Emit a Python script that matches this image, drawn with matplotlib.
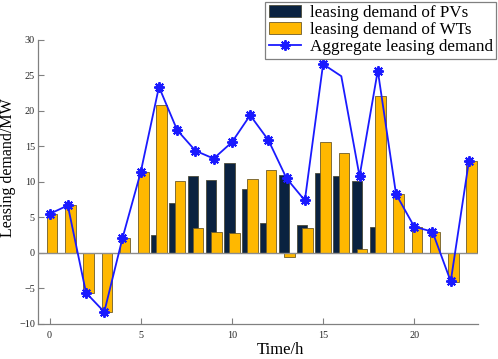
import numpy as np
import matplotlib
matplotlib.use("Agg")
import matplotlib.pyplot as plt

plt.rcParams['font.family'] = ['Liberation Serif', 'DejaVu Serif']

# hours
hours = np.arange(24)

# leasing demand (MW)
pv_demand = [0, 0, 0, 0, 0, 0, 2.5, 7.1, 10.9, 10.3, 12.7, 9.0,
             4.2, 11.0, 4.0, 11.3, 10.8, 10.2, 3.6, 0, 0, 0, 0, 0]
wt_demand = [5.5, 6.7, -5.6, -8.3, 2.1, 11.4, 20.9, 10.1, 3.5, 3.0, 2.8, 10.4,
             11.7, -0.6, 3.5, 15.7, 14.1, 0.5, 22.1, 8.3, 3.7, 3.0, -4.1, 13.0]
aggregate = [5.5, 6.7, -5.6, -8.3, 2.1, 11.4, 23.4, 17.3, 14.4, 13.3, 15.6, 19.4,
             15.9, 10.5, 7.4, 26.6, 24.9, 10.8, 25.7, 8.3, 3.7, 3.0, -4.0, 13.0]
# hour 16 is drawn without a marker in the original
marked = [h for h in hours if h != 16]

fig = plt.figure(figsize=(4.98, 3.59), dpi=100)
ax = fig.add_axes([0.0757, 0.0975, 0.8843, 0.7911])

w = 0.58
b1 = ax.bar(hours - 0.145, pv_demand, width=w, color='#0a2240',
            edgecolor='#4a4a3a', linewidth=0.6, zorder=2)
b2 = ax.bar(hours + 0.145, wt_demand, width=w, color='#ffb800',
            edgecolor='#6e5c2a', linewidth=0.6, zorder=3)
ax.axhline(0, color='#8c8c8c', linewidth=1.0, zorder=4)
ln, = ax.plot(hours, aggregate, color='#1a1aff', linewidth=1.3, marker=(8, 2, 0),
              markersize=7.5, markeredgewidth=1.4, markevery=marked, zorder=5)

ax.set_xlim(-0.65, 23.5)
ax.set_ylim(-10, 30)
ax.set_xticks([0, 5, 10, 15, 20])
ax.set_yticks(np.arange(-10, 31, 5))

for s in ['top', 'right']:
    ax.spines[s].set_visible(False)
for s in ['left', 'bottom']:
    ax.spines[s].set_color('#808080')
    ax.spines[s].set_linewidth(0.9)
ax.tick_params(direction='in', length=4, color='#808080', labelsize=7.3,
               labelcolor='#262626')
ax.tick_params(axis='x', pad=5)
ax.tick_params(axis='y', pad=2)

ax.set_xlabel('Time/h', fontsize=12)
ax.set_ylabel('Leasing demand/MW', fontsize=11.5)
ax.xaxis.set_label_coords(0.552, -0.062)
ax.yaxis.set_label_coords(-0.05, 0.549)

leg = fig.legend([b1, b2, ln],
                 ['leasing demand of PVs', 'leasing demand of WTs',
                  'Aggregate leasing demand'],
                 loc='upper right', bbox_to_anchor=(496 / 498, 1 - 2 / 359),
                 fontsize=12.3, labelspacing=0.05, handlelength=1.9,
                 handletextpad=0.5, borderpad=0.2, borderaxespad=0,
                 fancybox=False, framealpha=1)
leg.get_frame().set_edgecolor('#808080')
leg.get_frame().set_linewidth(0.9)

fig.savefig('out.png', dpi=100)
